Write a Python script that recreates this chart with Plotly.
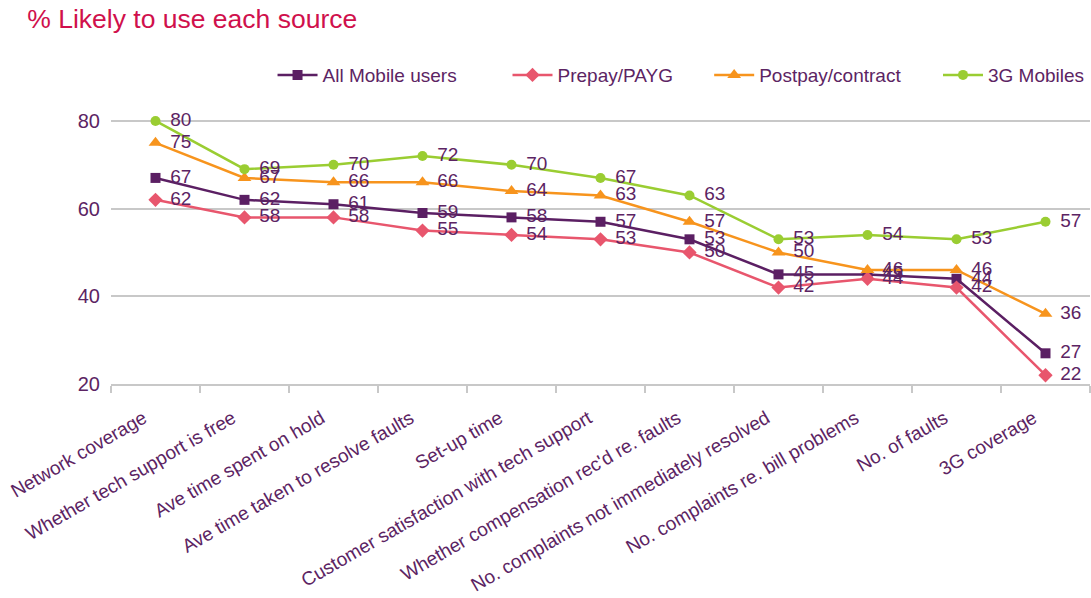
import plotly.graph_objects as go

categories = ["Network coverage", "Whether tech support is free", "Ave time spent on hold",
              "Ave time taken to resolve faults", "Set-up time", "Customer satisfaction with tech support",
              "Whether compensation rec'd re. faults", "No. complaints not immediately resolved",
              "No. complaints re. bill problems", "No. of faults", "3G coverage"]
all_mobile = [67, 62, 61, 59, 58, 57, 53, 45, 45, 44, 27]
prepay = [62, 58, 58, 55, 54, 53, 50, 42, 44, 42, 22]
postpay = [75, 67, 66, 66, 64, 63, 57, 50, 46, 46, 36]
mobiles_3g = [80, 69, 70, 72, 70, 67, 63, 53, 54, 53, 57]
y_ticks = [20, 40, 60, 80]

FONT = "Arial, Liberation Sans, sans-serif"
PURPLE = "#5c2463"

series = [
    ("All Mobile users", all_mobile, "#5b1f63", "square", 10, "legend", 0.165, "left"),
    ("Prepay/PAYG", prepay, "#e8566d", "diamond", 11, "legend2", 0.405, "left"),
    ("Postpay/contract", postpay, "#f7941d", "triangle-up", 12, "legend3", 0.611, "left"),
    ("3G Mobiles", mobiles_3g, "#9acd32", "circle", 10, "legend4", 1.0, "right"),
]

fig = go.Figure()
for name, vals, color, sym, size, leg, lx, lanchor in series:
    fig.add_trace(go.Scatter(
        x=categories, y=vals, name=name, mode="lines+markers",
        line=dict(color=color, width=2.5),
        marker=dict(symbol=sym, size=size, color=color),
        cliponaxis=False, legend=leg,
    ))
for name, vals, color, sym, size, leg, lx, lanchor in series:
    fig.add_trace(go.Scatter(
        x=categories, y=vals, mode="markers+text", text=[str(v) for v in vals],
        textposition="middle right", showlegend=False,
        marker=dict(size=22, opacity=0, color=color),
        textfont=dict(family=FONT, size=19, color=PURPLE),
        cliponaxis=False, hoverinfo="skip",
    ))

legend_common = dict(orientation="h", y=1.084, yanchor="middle",
                     font=dict(family=FONT, size=19, color=PURPLE),
                     bgcolor="rgba(0,0,0,0)", itemwidth=40)
legends = {}
for name, vals, color, sym, size, leg, lx, lanchor in series:
    legends[leg] = dict(legend_common, x=lx, xanchor=lanchor)

fig.update_layout(
    width=1091, height=598,
    paper_bgcolor="white", plot_bgcolor="white",
    margin=dict(l=111, r=1, t=99, b=214),
    title=dict(text="% Likely to use each source", x=0.025, xanchor="left", xref="container",
               y=0.985, yanchor="top", yref="container",
               font=dict(family=FONT, size=26.5, color="#d0104c")),
    showlegend=True,
    font=dict(family=FONT, color=PURPLE),
    **legends,
)
fig.update_xaxes(
    type="category", range=[-0.5, len(categories) - 0.5],
    showgrid=False, showline=True, linecolor="#c8c8c8", linewidth=2,
    ticks="outside", tickson="boundaries", ticklen=7, tickcolor="#c8c8c8", tickwidth=2,
    tickangle=-30, tickfont=dict(family=FONT, size=19, color=PURPLE), automargin=False,
    ticklabelstandoff=14, ticklabelshift=-12,
)
fig.update_yaxes(
    range=[20, 85], tickvals=y_ticks, showgrid=True, gridcolor="#c8c8c8", gridwidth=2,
    showline=False, zeroline=False, ticks="", ticklabelstandoff=10, automargin=False,
    tickfont=dict(family=FONT, size=20, color=PURPLE),
)

fig.write_html("out.html", config={"displayModeBar": False},
               post_script="document.body.style.margin='0';")
